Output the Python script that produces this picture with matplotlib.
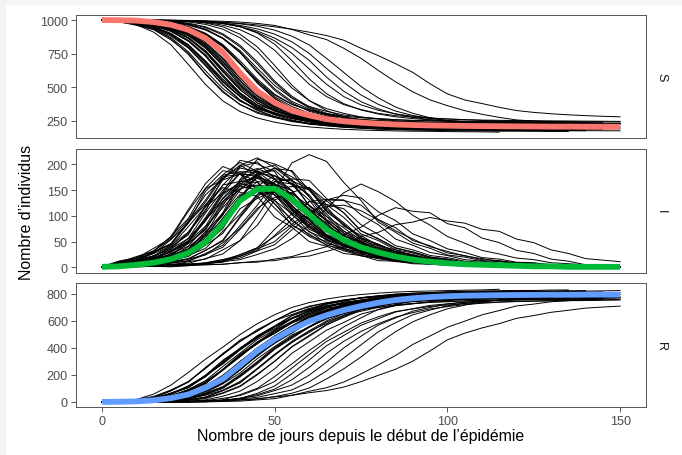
import numpy as np
import matplotlib
matplotlib.use("Agg")
import matplotlib.pyplot as plt
from matplotlib.patches import Rectangle

plt.rcParams['font.family'] = ['Liberation Sans', 'DejaVu Sans']

N = 1000
days = list(range(0, 151, 5))

# deterministic SIR solution
S_det = [1000, 999, 996, 985, 965, 928, 865, 760, 605, 470, 385, 325, 290, 262, 246, 236,
         228, 222, 218, 215, 213, 211, 210, 209, 208, 207, 206, 206, 205, 205, 205]
I_det = [1, 2, 5, 9, 16, 28, 49, 85, 130, 152, 153, 133, 103, 74, 53, 39,
         29, 21, 15, 11, 8, 6, 5, 4, 3, 2, 2, 1, 1, 1, 1]
R_det = [0, 1, 4, 12, 28, 55, 105, 170, 272, 378, 465, 537, 597, 642, 680, 710,
         735, 755, 768, 777, 783, 787, 789, 791, 792, 793, 794, 794, 795, 795, 795]

# stochastic simulations: S and I every 5 days until the epidemic dies out
s01 = [1000, 987, 961, 928, 852, 754, 598, 471, 369, 314, 275, 250, 230, 223, 212, 208, 202, 201, 197, 196, 194, 194, 191, 190]
i01 = [1, 9, 21, 31, 60, 95, 153, 170, 181, 150, 124, 82, 65, 43, 36, 22, 19, 11, 10, 6, 7, 4, 3, 0]
s02 = [1000, 992, 970, 935, 868, 765, 622, 490, 395, 338, 300, 274, 257, 245, 239, 232, 228, 225, 222, 221, 220, 218, 217, 216, 216, 215]
i02 = [1, 7, 14, 30, 46, 88, 122, 155, 146, 138, 98, 78, 50, 41, 27, 23, 13, 12, 7, 6, 4, 5, 2, 2, 1, 0]
s03 = [1000, 991, 976, 944, 888, 795, 660, 515, 400, 326, 281, 250, 229, 216, 206, 199, 194, 191, 189, 187, 185, 184, 183, 182, 181, 180, 180]
i03 = [1, 8, 18, 27, 54, 86, 148, 180, 204, 186, 161, 113, 88, 58, 47, 31, 25, 15, 13, 8, 7, 5, 5, 3, 2, 1, 0]
s04 = [1000, 988, 973, 948, 890, 810, 684, 537, 430, 347, 305, 268, 252, 234, 228, 219, 215, 210, 209, 206, 206, 203, 203, 201, 200]
i04 = [1, 10, 13, 29, 44, 86, 127, 176, 181, 179, 140, 112, 74, 59, 40, 33, 20, 17, 11, 10, 6, 6, 3, 3, 0]
s05 = [1000, 994, 978, 950, 900, 818, 696, 560, 450, 368, 327, 292, 275, 258, 252, 243, 240, 235, 234, 231, 231, 229, 228, 227, 226, 225, 225, 225]
i05 = [1, 6, 15, 22, 43, 68, 118, 144, 164, 148, 130, 90, 70, 47, 38, 25, 20, 13, 11, 7, 6, 4, 4, 3, 2, 2, 1, 0]
s06 = [1000, 985, 968, 938, 880, 792, 661, 520, 405, 331, 279, 249, 224, 213, 202, 197, 189, 187, 183, 182, 180, 179, 178, 177, 176, 175]
i06 = [1, 12, 19, 32, 55, 92, 141, 172, 199, 178, 158, 110, 86, 57, 45, 30, 24, 15, 12, 8, 7, 5, 4, 3, 2, 0]
s07 = [1000, 996, 986, 962, 922, 850, 740, 590, 455, 362, 304, 268, 243, 226, 216, 208, 202, 198, 195, 193, 191, 190, 189, 187, 187, 186, 185]
i07 = [1, 6, 13, 20, 40, 63, 120, 170, 208, 201, 186, 136, 104, 69, 55, 38, 30, 19, 16, 10, 9, 6, 6, 4, 3, 2, 0]
s08 = [1000, 997, 988, 967, 931, 864, 758, 614, 482, 383, 328, 288, 264, 245, 237, 227, 223, 217, 216, 212, 212, 209, 209, 207, 207, 206, 205, 205, 205]
i08 = [1, 5, 12, 17, 36, 56, 106, 150, 183, 176, 163, 120, 92, 60, 49, 33, 26, 16, 14, 9, 8, 5, 5, 3, 3, 2, 1, 1, 0]
s09 = [1000, 995, 982, 962, 926, 866, 772, 636, 505, 412, 351, 314, 288, 271, 261, 252, 247, 242, 240, 238, 236, 235, 233, 232, 231, 230]
i09 = [1, 4, 10, 15, 31, 48, 92, 128, 158, 150, 141, 102, 79, 52, 42, 28, 23, 14, 12, 7, 6, 4, 4, 2, 2, 0]
s10 = [1000, 994, 980, 956, 915, 842, 730, 578, 445, 352, 293, 256, 229, 213, 201, 193, 187, 183, 180, 178, 176, 175, 174, 172, 172, 171, 170, 170]
i10 = [1, 7, 12, 22, 38, 66, 112, 160, 193, 186, 172, 126, 97, 64, 51, 35, 28, 18, 14, 11, 7, 6, 4, 4, 2, 3, 1, 0]
s11 = [1000, 998, 988, 970, 934, 868, 764, 618, 480, 383, 320, 283, 255, 236, 227, 217, 212, 207, 205, 202, 201, 199, 198, 196, 195]
i11 = [1, 4, 9, 19, 29, 52, 90, 141, 166, 175, 149, 121, 81, 63, 42, 34, 22, 18, 11, 10, 6, 6, 4, 3, 0]
s12 = [1000, 999, 993, 978, 952, 905, 826, 712, 570, 450, 370, 320, 290, 266, 252, 243, 236, 230, 226, 224, 222, 221, 220, 219, 218, 217, 216, 215, 215, 215]
i12 = [1, 3, 9, 13, 27, 41, 79, 116, 153, 160, 155, 118, 93, 62, 49, 33, 27, 17, 14, 9, 8, 5, 5, 3, 3, 2, 1, 1, 1, 0]
s13 = [1000, 997, 991, 977, 948, 893, 800, 665, 515, 400, 326, 281, 250, 230, 216, 207, 200, 195, 191, 189, 187, 186, 184, 183, 182, 181, 180, 180]
i13 = [1, 4, 11, 16, 33, 51, 97, 146, 198, 213, 194, 168, 119, 92, 61, 50, 33, 26, 17, 14, 9, 8, 5, 5, 3, 3, 1, 0]
s14 = [1000, 999, 992, 978, 950, 899, 812, 686, 546, 430, 352, 305, 272, 251, 237, 226, 221, 214, 212, 209, 207, 205, 204, 203, 202, 201, 200]
i14 = [1, 3, 7, 16, 24, 47, 75, 128, 158, 178, 162, 141, 99, 77, 52, 41, 28, 22, 14, 12, 7, 7, 4, 4, 2, 2, 0]
s15 = [1000, 999, 994, 982, 958, 912, 835, 718, 585, 470, 385, 333, 297, 273, 259, 249, 242, 237, 234, 231, 229, 227, 226, 225, 223, 222, 221, 220, 220]
i15 = [1, 2, 7, 10, 21, 31, 61, 93, 138, 155, 160, 128, 104, 70, 55, 37, 30, 20, 16, 10, 8, 5, 5, 3, 3, 2, 1, 1, 0]
s16 = [1000, 996, 987, 970, 940, 886, 798, 672, 532, 418, 344, 292, 263, 238, 227, 216, 211, 204, 202, 198, 197, 195, 194, 192, 191, 190]
i16 = [1, 6, 8, 17, 25, 50, 80, 135, 167, 188, 171, 149, 105, 81, 54, 44, 29, 23, 15, 12, 8, 7, 5, 4, 2, 0]
s17 = [1000, 999, 995, 985, 962, 922, 850, 738, 588, 452, 360, 298, 262, 235, 218, 206, 199, 193, 189, 186, 184, 182, 180, 179, 178, 177, 176, 175, 175]
i17 = [1, 3, 7, 11, 22, 34, 67, 106, 170, 190, 199, 170, 137, 93, 71, 49, 39, 26, 20, 13, 11, 7, 7, 4, 4, 2, 3, 1, 0]
s18 = [1000, 1000, 997, 988, 970, 934, 868, 765, 620, 488, 391, 331, 293, 268, 252, 240, 234, 227, 224, 220, 218, 216, 215, 214, 212, 211, 210]
i18 = [1, 2, 4, 11, 16, 33, 52, 96, 138, 167, 162, 149, 110, 84, 56, 45, 30, 24, 15, 13, 8, 7, 5, 4, 3, 2, 0]
s19 = [1000, 999, 997, 990, 975, 945, 890, 800, 672, 545, 440, 372, 330, 302, 284, 272, 264, 257, 253, 250, 248, 246, 245, 244, 243, 242, 241, 240, 240, 240]
i19 = [1, 2, 5, 6, 14, 21, 43, 66, 114, 134, 150, 132, 115, 80, 63, 42, 35, 22, 18, 11, 10, 6, 5, 4, 3, 2, 2, 1, 1, 0]
s20 = [1000, 998, 994, 982, 960, 920, 852, 748, 602, 470, 379, 315, 282, 252, 238, 225, 219, 211, 208, 205, 203, 201, 200, 199, 197, 196, 196, 195]
i20 = [1, 3, 5, 12, 18, 36, 57, 105, 150, 183, 178, 163, 121, 91, 62, 48, 33, 26, 17, 14, 9, 8, 6, 4, 4, 2, 2, 0]
s21 = [1000, 1000, 998, 991, 977, 948, 894, 806, 676, 530, 414, 338, 291, 257, 236, 223, 212, 206, 200, 197, 194, 192, 191, 189, 188, 187, 186, 185, 185]
i21 = [1, 2, 4, 10, 15, 30, 47, 88, 131, 178, 193, 176, 153, 108, 83, 56, 44, 30, 24, 15, 13, 8, 7, 5, 4, 3, 2, 2, 0]
s22 = [1000, 1000, 997, 992, 978, 952, 902, 818, 696, 560, 448, 372, 326, 295, 275, 261, 252, 245, 240, 236, 234, 232, 230, 229, 228, 227, 226, 225, 225, 225, 225]
i22 = [1, 2, 3, 8, 11, 23, 37, 70, 103, 142, 147, 145, 114, 91, 61, 48, 32, 26, 17, 14, 9, 8, 5, 5, 3, 3, 2, 1, 1, 1, 0]
s23 = [1000, 1000, 999, 995, 987, 968, 930, 862, 757, 610, 476, 383, 320, 287, 258, 243, 230, 224, 216, 214, 210, 208, 206, 205, 204, 202, 202, 201, 200, 200]
i23 = [1, 1, 3, 5, 11, 17, 33, 53, 99, 141, 172, 168, 153, 113, 87, 58, 45, 31, 25, 16, 13, 8, 7, 5, 5, 3, 2, 2, 1, 0]
s24 = [1000, 999, 998, 994, 983, 962, 926, 866, 772, 640, 512, 418, 356, 320, 293, 277, 266, 258, 251, 248, 245, 243, 241, 240, 239, 237, 236, 235]
i24 = [1, 2, 3, 5, 9, 16, 24, 48, 76, 115, 136, 143, 120, 99, 66, 51, 34, 28, 19, 15, 9, 8, 5, 5, 3, 3, 2, 0]
s25 = [1000, 1000, 999, 997, 990, 973, 944, 889, 800, 672, 534, 421, 345, 296, 261, 241, 227, 217, 211, 205, 202, 199, 197, 196, 194, 193, 192, 191, 190, 190, 190]
i25 = [1, 1, 2, 4, 9, 13, 27, 43, 81, 121, 166, 172, 169, 134, 106, 71, 56, 38, 30, 20, 16, 10, 9, 6, 5, 4, 3, 2, 2, 1, 0]
s26 = [1000, 1000, 999, 998, 994, 986, 968, 932, 868, 766, 624, 494, 400, 340, 305, 278, 262, 250, 244, 236, 233, 230, 228, 226, 225, 224, 222, 222, 221, 220]
i26 = [1, 1, 2, 2, 6, 8, 17, 26, 52, 82, 131, 146, 155, 129, 106, 71, 55, 37, 30, 20, 16, 10, 8, 5, 5, 4, 3, 2, 1, 0]
s27 = [1000, 1000, 1000, 999, 998, 992, 978, 950, 894, 800, 662, 515, 400, 325, 279, 247, 226, 212, 203, 196, 190, 187, 184, 182, 181, 179, 178, 177, 176, 175, 175]
i27 = [1, 1, 2, 3, 4, 11, 16, 34, 52, 99, 150, 203, 219, 206, 165, 130, 88, 68, 47, 37, 24, 20, 13, 11, 7, 7, 4, 4, 3, 2, 0]
s28 = [1000, 1000, 999, 999, 997, 992, 982, 962, 928, 868, 775, 645, 522, 430, 370, 333, 305, 288, 277, 269, 263, 258, 255, 253, 251, 250, 249, 248, 247, 246, 245]
i28 = [1, 2, 1, 2, 3, 5, 8, 12, 25, 38, 74, 104, 128, 122, 114, 83, 64, 42, 34, 23, 19, 12, 10, 6, 5, 4, 3, 2, 2, 1, 0]
s29 = [1000, 1000, 999, 999, 999, 997, 992, 978, 952, 903, 820, 698, 562, 452, 377, 330, 300, 279, 266, 256, 250, 245, 241, 238, 237, 235, 234, 233, 232, 231, 230]
i29 = [1, 1, 2, 2, 1, 3, 7, 10, 22, 33, 62, 93, 128, 132, 131, 102, 83, 55, 43, 29, 23, 15, 12, 8, 6, 5, 4, 3, 2, 2, 0]
s30 = [1000, 1000, 999, 999, 998, 995, 988, 975, 950, 908, 845, 752, 636, 522, 430, 368, 328, 301, 283, 271, 263, 257, 252, 249, 247, 245, 244, 243, 242, 241, 240]
i30 = [1, 2, 2, 3, 4, 6, 9, 15, 24, 38, 60, 84, 108, 118, 121, 110, 92, 71, 55, 40, 31, 22, 17, 12, 9, 7, 5, 4, 3, 2, 0]
s31 = [1000, 1000, 999, 999, 997, 995, 991, 984, 972, 954, 925, 880, 815, 715, 610, 505, 420, 352, 305, 272, 250, 236, 226, 219, 214, 210, 207, 205, 204, 203, 202]
i31 = [1, 1, 2, 3, 3, 5, 7, 11, 15, 25, 36, 56, 82, 115, 145, 162, 147, 128, 101, 82, 60, 47, 33, 26, 18, 15, 9, 7, 5, 3, 2]
s32 = [1000, 1000, 999, 998, 996, 992, 985, 973, 952, 918, 866, 795, 700, 575, 470, 392, 338, 300, 275, 258, 247, 240, 236, 233, 231, 230, 229, 228, 228, 227, 227]
i32 = [1, 1, 2, 3, 5, 6, 8, 15, 21, 36, 50, 80, 102, 131, 130, 121, 93, 77, 52, 42, 28, 23, 15, 13, 8, 7, 5, 4, 2, 2, 0]
s33 = [1000, 1000, 1000, 999, 998, 997, 995, 991, 985, 975, 960, 930, 890, 855, 790, 715, 625, 540, 465, 405, 362, 325, 298, 275, 256, 248, 242, 238, 235, 233]
i33 = [1, 2, 1, 2, 3, 4, 5, 6, 9, 10, 16, 21, 31, 40, 63, 78, 101, 116, 109, 106, 85, 77, 57, 48, 33, 27, 16, 12, 5, 0]
s34 = [1000, 1000, 999, 998, 996, 993, 989, 983, 975, 964, 950, 932, 910, 885, 850, 790, 735, 675, 610, 525, 450, 405, 378, 350, 326, 312, 302, 294, 288, 283, 279]
i34 = [1, 1, 2, 2, 3, 4, 5, 6, 9, 12, 13, 19, 22, 31, 40, 60, 68, 83, 88, 97, 90, 86, 74, 70, 55, 48, 34, 27, 17, 14, 11]
s35 = [1000, 1000, 999, 998, 996, 993, 987, 977, 960, 934, 895, 838, 752, 640, 535, 442, 372, 322, 289, 267, 252, 242, 236, 232, 229, 227, 226, 225, 224, 224, 224]
i35 = [1, 2, 2, 3, 4, 6, 7, 13, 18, 32, 44, 73, 99, 131, 140, 135, 108, 91, 65, 52, 36, 29, 19, 16, 10, 9, 5, 4, 3, 2, 0]
s36 = [1000, 992, 965, 910, 815, 670, 520, 398, 318, 270, 239, 217, 204, 194, 186, 181, 177, 174, 172, 171, 169, 168, 167, 165]
i36 = [1, 8, 17, 32, 60, 112, 163, 196, 183, 150, 115, 83, 60, 44, 32, 23, 17, 12, 9, 7, 6, 4, 3, 0]
s37 = [1000, 989, 972, 949, 896, 801, 672, 541, 428, 343, 297, 268, 244, 232, 221, 216, 209, 207, 204, 202, 200, 199, 198, 197, 196, 195, 195]
i37 = [1, 11, 14, 30, 46, 89, 131, 179, 186, 184, 146, 116, 77, 61, 40, 34, 21, 17, 11, 10, 6, 6, 4, 3, 2, 1, 0]
s38 = [1000, 995, 982, 960, 918, 846, 737, 590, 458, 366, 302, 266, 240, 222, 213, 203, 198, 193, 190, 188, 186, 185, 184, 182, 181, 180]
i38 = [1, 7, 11, 23, 35, 68, 109, 175, 195, 205, 172, 141, 95, 73, 49, 41, 26, 21, 13, 11, 7, 7, 4, 4, 2, 0]
s39 = [1000, 998, 989, 974, 944, 891, 806, 688, 550, 437, 355, 314, 278, 260, 244, 238, 229, 225, 220, 219, 216, 215, 214, 213, 212, 211, 210, 210]
i39 = [1, 5, 7, 15, 23, 46, 73, 124, 153, 173, 158, 137, 97, 75, 50, 40, 26, 21, 14, 12, 7, 7, 4, 4, 2, 2, 1, 0]
s40 = [1000, 996, 987, 970, 938, 882, 790, 660, 520, 408, 333, 287, 256, 236, 221, 213, 205, 200, 196, 194, 192, 190, 189, 188, 187, 186, 185, 185, 185]
i40 = [1, 6, 10, 19, 31, 56, 93, 144, 183, 192, 178, 149, 111, 86, 57, 45, 31, 24, 16, 13, 8, 8, 5, 5, 3, 3, 2, 1, 0]
s41 = [1000, 999, 995, 983, 962, 925, 862, 758, 604, 470, 378, 322, 284, 259, 241, 232, 222, 218, 212, 210, 207, 206, 204, 203, 201, 200]
i41 = [1, 2, 7, 10, 21, 32, 63, 101, 162, 180, 189, 160, 131, 88, 67, 46, 37, 25, 19, 12, 10, 7, 6, 4, 3, 0]
s42 = [1000, 1000, 996, 987, 966, 928, 855, 742, 588, 450, 362, 305, 270, 243, 228, 216, 210, 203, 199, 196, 193, 192, 190, 189, 188, 187, 186, 185, 185, 185]
i42 = [1, 2, 6, 13, 20, 40, 64, 120, 171, 210, 201, 186, 137, 104, 70, 55, 38, 30, 19, 16, 10, 9, 6, 6, 4, 3, 2, 2, 1, 0]
s43 = [1000, 1000, 997, 991, 973, 949, 891, 812, 679, 547, 428, 356, 306, 277, 253, 242, 231, 226, 219, 217, 213, 212, 210, 209, 208, 207, 206, 205]
i43 = [1, 2, 5, 7, 16, 24, 47, 75, 128, 158, 178, 163, 141, 99, 77, 52, 42, 27, 22, 14, 12, 7, 7, 4, 4, 2, 2, 0]
s44 = [1000, 1000, 999, 992, 978, 950, 898, 810, 680, 535, 418, 341, 296, 264, 246, 230, 223, 214, 211, 206, 204, 202, 200, 199, 198, 197, 196, 195, 195, 195]
i44 = [1, 2, 4, 10, 15, 30, 48, 90, 134, 183, 192, 188, 150, 118, 80, 62, 42, 34, 22, 18, 11, 10, 6, 7, 4, 3, 3, 2, 1, 0]
s45 = [1000, 1000, 999, 997, 987, 968, 933, 866, 762, 620, 488, 394, 336, 298, 274, 255, 247, 237, 232, 227, 225, 222, 221, 220, 219, 217, 217, 216, 215]
i45 = [1, 1, 3, 5, 11, 16, 33, 51, 97, 137, 167, 162, 150, 110, 84, 56, 45, 30, 24, 15, 13, 8, 7, 5, 4, 3, 2, 2, 0]
s46 = [1000, 993, 979, 951, 899, 814, 688, 550, 433, 352, 310, 274, 256, 240, 233, 224, 220, 215, 214, 211, 210, 209, 208, 206, 205]
i46 = [1, 9, 13, 27, 41, 79, 118, 160, 167, 165, 130, 104, 69, 55, 36, 30, 19, 16, 10, 9, 5, 5, 3, 3, 0]
s47 = [1000, 997, 987, 969, 934, 870, 768, 626, 494, 398, 337, 305, 274, 262, 249, 244, 235, 233, 229, 228, 226, 225, 224, 222, 221, 221, 220]
i47 = [1, 4, 10, 16, 32, 49, 94, 133, 162, 157, 145, 106, 82, 54, 44, 29, 23, 15, 13, 8, 7, 5, 5, 3, 2, 1, 0]
s48 = [1000, 988, 967, 931, 862, 744, 596, 462, 372, 306, 274, 243, 228, 216, 210, 202, 199, 195, 193, 191, 190, 189, 187, 186, 186, 185]
i48 = [1, 12, 18, 37, 57, 109, 154, 188, 181, 167, 123, 94, 62, 50, 34, 27, 17, 14, 9, 8, 5, 5, 3, 3, 2, 0]
s49 = [1000, 1000, 1000, 997, 991, 977, 950, 898, 812, 688, 546, 433, 352, 306, 277, 255, 240, 233, 224, 220, 215, 214, 212, 210, 209, 208, 207, 206, 205, 205]
i49 = [1, 1, 2, 3, 8, 12, 25, 39, 74, 111, 152, 157, 155, 122, 97, 65, 52, 34, 28, 18, 15, 9, 8, 5, 5, 3, 3, 2, 1, 0]
s50 = [1000, 998, 993, 979, 952, 902, 820, 700, 565, 452, 376, 331, 297, 280, 264, 257, 248, 245, 240, 239, 236, 235, 234, 233, 232, 231, 230]
i50 = [1, 3, 8, 11, 24, 36, 70, 103, 142, 147, 146, 114, 92, 61, 48, 32, 26, 17, 14, 8, 8, 5, 5, 3, 3, 1, 0]

runs = [(s01, i01), (s02, i02), (s03, i03), (s04, i04), (s05, i05), (s06, i06),
        (s07, i07), (s08, i08), (s09, i09), (s10, i10), (s11, i11), (s12, i12),
        (s13, i13), (s14, i14), (s15, i15), (s16, i16), (s17, i17), (s18, i18),
        (s19, i19), (s20, i20), (s21, i21), (s22, i22), (s23, i23), (s24, i24),
        (s25, i25), (s26, i26), (s27, i27), (s28, i28), (s29, i29), (s30, i30),
        (s31, i31), (s32, i32), (s33, i33), (s34, i34), (s35, i35), (s36, i36),
        (s37, i37), (s38, i38), (s39, i39), (s40, i40), (s41, i41), (s42, i42),
        (s43, i43), (s44, i44), (s45, i45), (s46, i46), (s47, i47), (s48, i48),
        (s49, i49), (s50, i50)]


def build_trajectories():
    out = []
    for s, i in runs:
        assert len(s) == len(i), (len(s), len(i))
        s = np.array(s, dtype=float)
        i = np.array(i, dtype=float)
        r = np.clip(N - s - i, 0, None)
        out.append({'t': days[:len(s)], 'S': s, 'I': i, 'R': r})
    return out


trajs = build_trajectories()
det = {'S': S_det, 'I': I_det, 'R': R_det}
colours = {'S': '#F8766D', 'I': '#00BA38', 'R': '#619CFF'}
ylims = {'S': (119, 1040), 'I': (-11, 231), 'R': (-40, 879)}
yticks = {'S': [250, 500, 750, 1000], 'I': [0, 50, 100, 150, 200],
          'R': [0, 200, 400, 600, 800]}

W, H = 682, 456
left, right = 76, 646
bands = {'S': (15.7, 139.3), 'I': (149.5, 274.0), 'R': (284.3, 408.3)}

fig = plt.figure(figsize=(W / 100, H / 100), dpi=100)
fig.patches.append(Rectangle((0, 1 - 5 / H), 1, 5 / H, transform=fig.transFigure,
                             color='#f4f4f4', zorder=0))
fig.patches.append(Rectangle((0, 0), 5 / W, 1, transform=fig.transFigure,
                             color='#f4f4f4', zorder=0))

frame_col = '#555555'
for key in 'SIR':
    top, bot = bands[key]
    ax = fig.add_axes([left / W, 1 - bot / H, (right - left) / W, (bot - top) / H])
    for tr in trajs:
        ax.plot(tr['t'], tr[key], color='black', lw=0.7, zorder=2)
    ax.plot(days, det[key], color=colours[key], lw=4.2, solid_capstyle='butt', zorder=3)

    ax.set_xlim(-7.5, 157.5)
    ax.set_ylim(*ylims[key])
    ax.set_xticks([0, 50, 100, 150])
    ax.set_yticks(yticks[key])
    for sp in ax.spines.values():
        sp.set_color(frame_col)
        sp.set_linewidth(0.7)
    ax.tick_params(axis='both', direction='out', length=3.3, width=0.7,
                   color=frame_col, labelcolor='#4d4d4d', labelsize=9.1, pad=2.5)
    if key != 'R':
        ax.tick_params(axis='x', bottom=False, labelbottom=False)
    ax.text(1 + 15 / (right - left), 0.5, key, transform=ax.transAxes, rotation=-90,
            ha='center', va='center', fontsize=9.1, color='#1a1a1a')

fig.text(361 / W, 1 - 437 / H, "Nombre de jours depuis le début de l’épidémie",
         ha='center', va='center', fontsize=11.4)
fig.text(27 / W, 0.535, "Nombre d’individus", rotation=90,
         ha='center', va='center', fontsize=11.4)

fig.savefig('out.png', dpi=100)
